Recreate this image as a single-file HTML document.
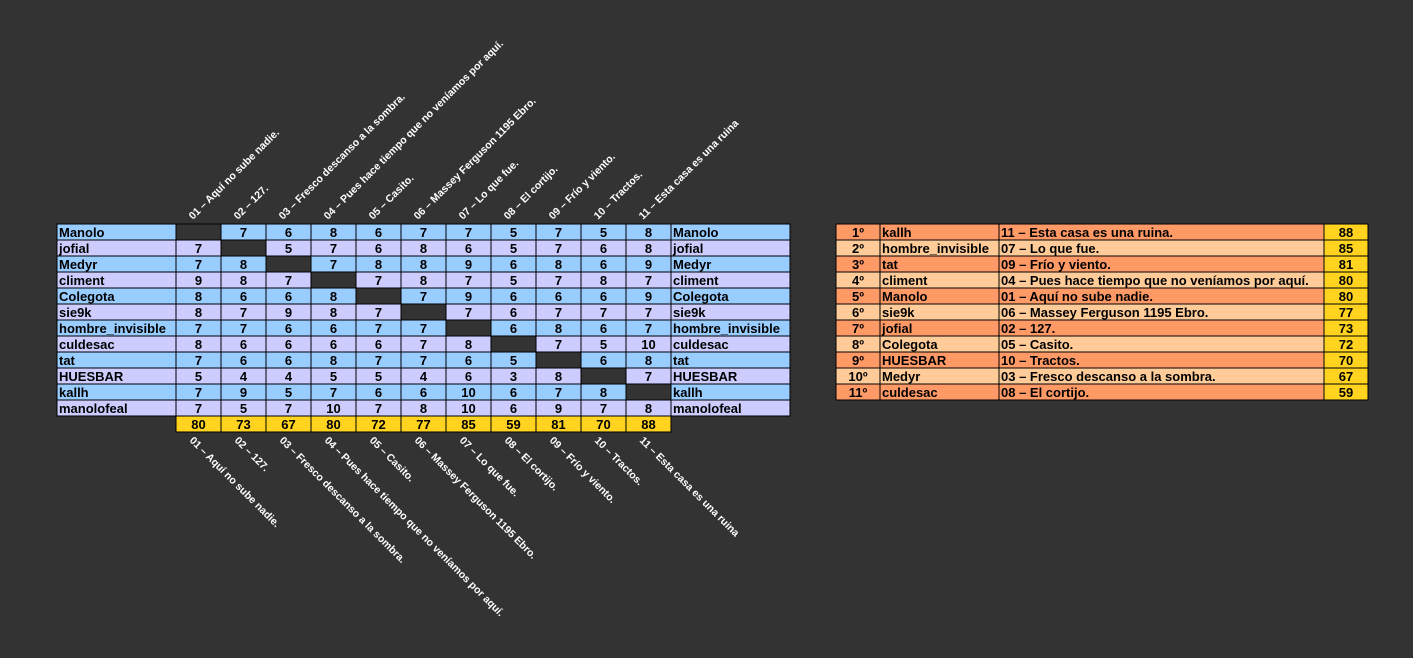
<!DOCTYPE html>
<html><head><meta charset="utf-8">
<style>
body{margin:0;width:1413px;height:658px;background:#333333;overflow:hidden;font-family:"Liberation Sans",sans-serif;}
svg{position:absolute;left:0;top:0;}
text{font-family:"Liberation Sans",sans-serif;font-weight:bold;}
</style></head>
<body>
<svg id="chart" width="1413" height="658" xmlns="http://www.w3.org/2000/svg"></svg>
<script>
const players=["Manolo","jofial","Medyr","climent","Colegota","sie9k","hombre_invisible","culdesac","tat","HUESBAR","kallh","manolofeal"];
const songs=["01 – Aquí no sube nadie.","02 – 127.","03 – Fresco descanso a la sombra.","04 – Pues hace tiempo que no veníamos por aquí.","05 – Casito.","06 – Massey Ferguson 1195 Ebro.","07 – Lo que fue.","08 – El cortijo.","09 – Frío y viento.","10 – Tractos.","11 – Esta casa es una ruina"];
const votes=[
[null,7,6,8,6,7,7,5,7,5,8],
[7,null,5,7,6,8,6,5,7,6,8],
[7,8,null,7,8,8,9,6,8,6,9],
[9,8,7,null,7,8,7,5,7,8,7],
[8,6,6,8,null,7,9,6,6,6,9],
[8,7,9,8,7,null,7,6,7,7,7],
[7,7,6,6,7,7,null,6,8,6,7],
[8,6,6,6,6,7,8,null,7,5,10],
[7,6,6,8,7,7,6,5,null,6,8],
[5,4,4,5,5,4,6,3,8,null,7],
[7,9,5,7,6,6,10,6,7,8,null],
[7,5,7,10,7,8,10,6,9,7,8]];
const totals=[80,73,67,80,72,77,85,59,81,70,88];
const rankPos=["1º","2º","3º","4º","5º","6º","7º","8º","9º","10º","11º"];
const rankNames=["kallh","hombre_invisible","tat","climent","Manolo","sie9k","jofial","Colegota","HUESBAR","Medyr","culdesac"];
const rankSongs=["11 – Esta casa es una ruina.","07 – Lo que fue.","09 – Frío y viento.","04 – Pues hace tiempo que no veníamos por aquí.","01 – Aquí no sube nadie.","06 – Massey Ferguson 1195 Ebro.","02 – 127.","05 – Casito.","10 – Tractos.","03 – Fresco descanso a la sombra.","08 – El cortijo."];
const rankScores=[88,85,81,80,80,77,73,72,70,67,59];

const svg=document.getElementById('chart');
const NS="http://www.w3.org/2000/svg";
function mk(tag,attrs,parent){const e=document.createElementNS(NS,tag);for(const k in attrs)e.setAttribute(k,attrs[k]);(parent||svg).appendChild(e);return e;}
const X0=57,NW=119,CW=45,Y0=224,RH=16;
const colX=i=>X0+NW+i*CW;
const rowY=r=>Y0+r*RH;
const BLUE="#99ccff",LAV="#ccccff",YEL="#ffd320",OR="#ff9966",LO="#ffcc99";
function cell(x,y,w,h,fill,txt,align,name){
  const g=mk('g',{});
  
  
  mk('rect',{x:x,y:y,width:w,height:h,fill:fill,stroke:"#000","stroke-width":1},g);
  if(txt!==null&&txt!==undefined){
    const t=mk('text',{x:align==='start'?x+2:x+w/2,y:y+h-3,'font-size':13,'text-anchor':align==='start'?'start':'middle',fill:"#000"},g);
    t.textContent=txt;
  }
}
players.forEach((p,r)=>{
  const fill=r%2===0?BLUE:LAV;
  cell(X0,rowY(r),NW,RH,fill,p,'start','row-name-left');
  for(let c=0;c<songs.length;c++){
    const v=votes[r][c];
    if(v===null) cell(colX(c),rowY(r),CW,RH,"#333333",null,'middle','empty-cell');
    else cell(colX(c),rowY(r),CW,RH,fill,String(v),'middle','vote-cell');
  }
  cell(colX(songs.length),rowY(r),NW,RH,fill,p,'start','row-name-right');
});
totals.forEach((t,c)=>cell(colX(c),rowY(players.length),CW,RH,YEL,String(t),'middle','total-cell'));
songs.forEach((s,c)=>{
  const x1=colX(c)+17,y1=220;
  const t=mk('text',{x:x1,y:y1,'font-size':10.5,fill:"#fff",transform:`rotate(-45 ${x1} ${y1})`});
  
  
  t.textContent=s;
  const x2=colX(c)+13,y2=441;
  const b=mk('text',{x:x2,y:y2,'font-size':10.5,fill:"#fff",transform:`rotate(45 ${x2} ${y2})`});
  
  
  b.textContent=s;
});
const RX=836;
rankPos.forEach((p,r)=>{
  const fill=r%2===0?OR:LO,y=rowY(r);
  cell(RX,y,44,RH,fill,p,'middle','rank-position');
  cell(880,y,119,RH,fill,rankNames[r],'start','rank-player');
  cell(999,y,325,RH,fill,rankSongs[r],'start','rank-song');
  cell(1324,y,44,RH,YEL,String(rankScores[r]),'middle','rank-score');
});
</script>
</body></html>
